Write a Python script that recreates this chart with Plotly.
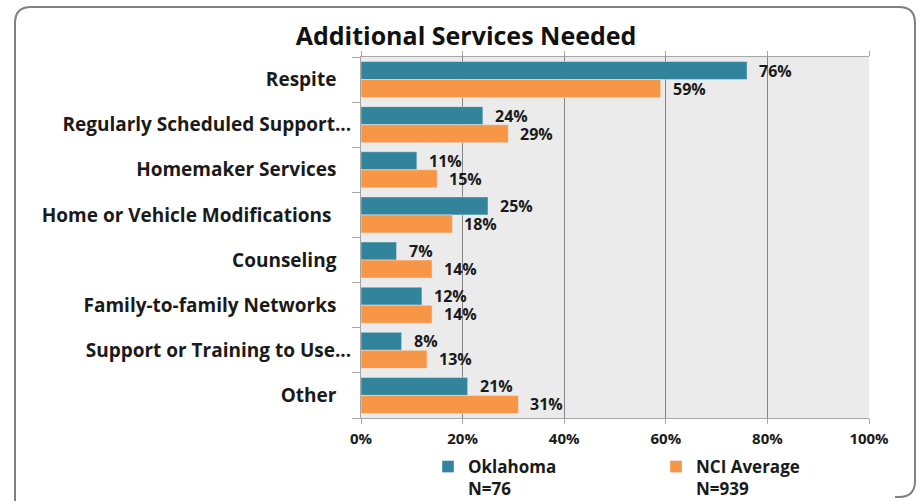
import plotly.graph_objects as go

categories = ["Respite", "Regularly Scheduled Support...", "Homemaker Services",
              "Home or Vehicle Modifications", "Counseling", "Family-to-family Networks",
              "Support or Training to Use...", "Other"]
oklahoma = [0.76, 0.24, 0.11, 0.25, 0.07, 0.12, 0.08, 0.21]
nci = [0.59, 0.29, 0.15, 0.18, 0.14, 0.14, 0.13, 0.31]
series_names = ["Oklahoma<br>N=76", "NCI Average<br>N=939"]
tick_vals = [0, 0.2, 0.4, 0.6, 0.8, 1.0]
tick_text = ["0%", "20%", "40%", "60%", "80%", "100%"]

W, H = 921, 501
L, R, T, B = 361, 869, 57, 418
FONT = "Open Sans"
TEAL = "#31849B"
ORANGE = "#F79646"
NB = "\u00a0"


def px(x):
    return (x - L) / (R - L)


def py(y):
    return (B - y) / (B - T)


# display labels: non-truncated labels carry trailing space as in the original
pad = {"Home or Vehicle Modifications": 4}
cat_text = [c if c.endswith("...") else c + NB * pad.get(c, 3) for c in categories]

fig = go.Figure()
fig.add_trace(go.Bar(y=categories, x=oklahoma, orientation="h", name=series_names[0],
                     marker=dict(color=TEAL), hoverinfo="x+y", legend="legend"))
fig.add_trace(go.Bar(y=categories, x=nci, orientation="h", name=series_names[1],
                     marker=dict(color=ORANGE), hoverinfo="x+y", legend="legend2"))

annotations = []
for i, (a, b) in enumerate(zip(oklahoma, nci)):
    for val, off in ((a, -0.2), (b, 0.2)):
        annotations.append(dict(x=val, y=i + off, xref="x", yref="y",
                                text=f"{round(val * 100)}%", showarrow=False,
                                xanchor="left", yanchor="middle", xshift=10,
                                font=dict(family=FONT, size=16, color="#1a1a1a", weight="bold")))

# rounded outer frame
x0, x1, y0, r = 15, 915, 7, 16
ybot = 497
path = (f"M {px(x0)},{py(H + 20)} L {px(x0)},{py(y0 + r)} "
        f"Q {px(x0)},{py(y0)} {px(x0 + r)},{py(y0)} "
        f"L {px(x1 - r)},{py(y0)} Q {px(x1)},{py(y0)} {px(x1)},{py(y0 + r)} "
        f"L {px(x1)},{py(ybot - r)} Q {px(x1)},{py(ybot)} {px(x1 - r)},{py(ybot)} "
        f"L {px(x1 - r - 4)},{py(ybot)}")

legend_font = dict(family=FONT, size=17, color="#1a1a1a", weight="bold")

fig.update_layout(
    width=W, height=H,
    margin=dict(l=L, r=W - R, t=T, b=H - B, autoexpand=False),
    paper_bgcolor="white",
    plot_bgcolor="#EBEBEB",
    barmode="group", bargap=0.2, bargroupgap=0,
    title=dict(text="Additional Services Needed", x=466 / W, xanchor="center",
               y=1 - 36 / H, yanchor="middle",
               font=dict(family=FONT, size=25, color="#111", weight="bold")),
    xaxis=dict(range=[0, 1], tickvals=tick_vals, ticktext=tick_text,
               showgrid=True, gridcolor="#858585", gridwidth=1,
               showline=True, linecolor="#A6A6A6", linewidth=1, mirror="ticks",
               ticks="outside", ticklen=5, tickcolor="#A6A6A6",
               tickfont=dict(family=FONT, size=15, color="#1a1a1a", weight="bold"),
               ticklabelstandoff=2,
               zeroline=False, fixedrange=True),
    yaxis=dict(type="category", autorange="reversed", tickson="boundaries",
               tickvals=categories, ticktext=cat_text,
               ticks="outside", ticklen=8, tickcolor="#A6A6A6",
               showline=True, linecolor="#A6A6A6", linewidth=1,
               tickfont=dict(family=FONT, size=19, color="#1a1a1a", weight="bold"),
               ticklabelstandoff=5, showgrid=False, fixedrange=True),
    legend=dict(orientation="h", x=px(428), xanchor="left", y=py(449), yanchor="top",
                valign="top", font=legend_font, bgcolor="rgba(0,0,0,0)"),
    legend2=dict(orientation="h", x=px(656), xanchor="left", y=py(449), yanchor="top",
                 valign="top", font=legend_font, bgcolor="rgba(0,0,0,0)"),
    annotations=annotations,
    shapes=[dict(type="path", path=path, xref="paper", yref="paper",
                 line=dict(color="#808080", width=2), layer="above")],
    showlegend=True,
)

fig.write_html("out.html", config={"displayModeBar": False},
               post_script="document.body.style.margin='0';")
